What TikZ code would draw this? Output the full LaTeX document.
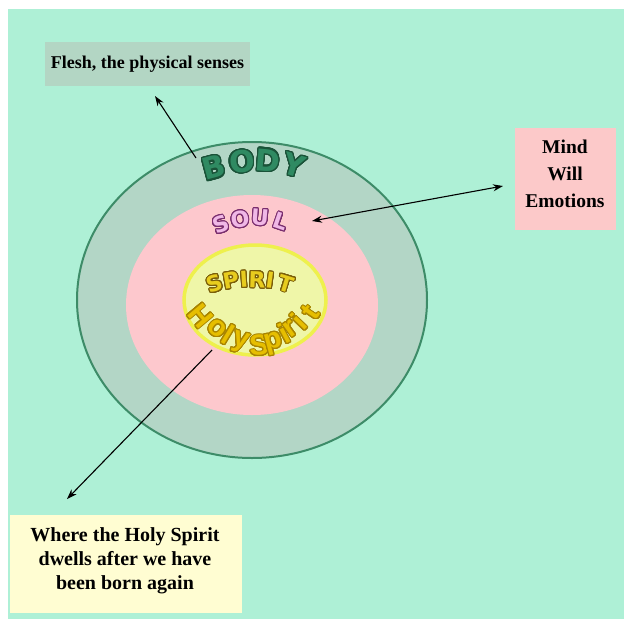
\documentclass[tikz,border=0pt]{standalone}
\usepackage{fontspec}
\setmainfont{Liberation Serif}
\newfontfamily\wafont{DejaVu Sans}
\newfontfamily\hsfont{Liberation Sans}
\usepackage[copies]{contour}
\contournumber{24}
\usetikzlibrary{arrows.meta,shapes.geometric}
\definecolor{bg}{HTML}{AEF0D6}
\definecolor{fleshc}{HTML}{B3D6C4}
\definecolor{bodyfill}{HTML}{B3D6C6}
\definecolor{bodyline}{HTML}{3D8C68}
\definecolor{soulfill}{HTML}{FDC8CD}
\definecolor{mindc}{HTML}{FCC9C9}
\definecolor{spfill}{HTML}{EFF6A8}
\definecolor{spline}{HTML}{EEF04C}
\definecolor{wherec}{HTML}{FFFDD2}
\definecolor{bodytxt}{HTML}{2F8A62}
\definecolor{bodyout}{HTML}{1A5238}
\definecolor{soultxt}{HTML}{F0B8E6}
\definecolor{soulout}{HTML}{7A2E6E}
\definecolor{spirtxt}{HTML}{E8CC1E}
\definecolor{spirout}{HTML}{7A5E0A}
\definecolor{hstxt}{HTML}{E6BE00}
\definecolor{hsout}{HTML}{A88400}
\tikzset{
  labelbox/.style={inner sep=0pt, align=center, text=black, font=\bfseries},
  ring/.style={ellipse, inner sep=0pt},
  arr/.style={line width=1.1pt, -{Stealth[length=10pt,width=7pt]}},
  arrboth/.style={line width=1.1pt, {Stealth[length=10pt,width=7pt]}-{Stealth[length=10pt,width=7pt]}},
  wa/.style={inner sep=0pt, anchor=center},
}
\newcommand\bodyletter[1]{\contourlength{1.3pt}\contour{bodyout}{#1}}
\newcommand\soulletter[1]{\contourlength{1pt}\contour{soulout}{#1}}
\newcommand\spirletter[1]{\contourlength{1pt}\contour{spirout}{#1}}
\newcommand\hsletter[1]{\contourlength{1pt}\contour{hsout}{#1}}
\begin{document}
\begin{tikzpicture}[x=1pt,y=-1pt]
\fill[white] (0,0) rectangle (624,619);
\useasboundingbox (0,0) rectangle (624,619);
\fill[bg] (8,9) rectangle (624,619);

% rings
\node[ring, draw=bodyline, line width=2pt, fill=bodyfill, minimum width=350pt, minimum height=316pt] (body) at (252,300) {};
\node[ring, fill=soulfill, minimum width=252pt, minimum height=220pt] (soul) at (252,305) {};
\node[ring, draw=spline, line width=3.5pt, fill=spfill, minimum width=142pt, minimum height=110pt] (spirit) at (255,300) {};

% BODY
\foreach \l/\x/\y/\r in {B/214/168/15, O/242/162/5, D/268/161/-5, Y/294/166/-17}
  \node[wa, rotate=\r, text=bodytxt, font=\wafont\bfseries\fontsize{30}{30}\selectfont] (body\l) at (\x,\y) {\bodyletter{\l}};
% SOUL
\foreach \l/\x/\y/\r/\n in {S/221/225/21/1, O/240/220/8/2, U/260/218/-5/3, L/281/222/-19/4}
  \node[wa, rotate=\r, text=soultxt, font=\wafont\bfseries\fontsize{22}{22}\selectfont] (soul\n) at (\x,\y) {\soulletter{\l}};
% SPIRIT
\foreach \l/\x/\y/\r/\n in {S/215/284/18/1, P/231/281/10/2, I/244/280/4/3, R/257/280/-2/4, I/270/281/-8/5, T/286/284/-17/6}
  \node[wa, rotate=\r, text=spirtxt, font=\wafont\bfseries\fontsize{22}{22}\selectfont] (spir\n) at (\x,\y) {\spirletter{\l}};
% Holy Spirit
\foreach \l/\x/\y/\r/\n in {H/200/316/-50/1, o/217/329/-40/2, l/228/335/-31/3, y/240/343/-17/4, S/259/346/3/5, p/274/344/15/6, i/284/334/28/7, r/291/329/36/8, i/299/322/46/9, t/311/313/56/10}
  \node[wa, rotate=\r, text=hstxt, font=\hsfont\bfseries\fontsize{29}{29}\selectfont] (hs\n) at (\x,\y) {\hsletter{\l}};

% boxes
\node[labelbox, fill=fleshc, minimum width=205pt, minimum height=44pt, font=\bfseries\fontsize{18}{20}\selectfont] (flesh) at (147.5,64) {Flesh, the physical senses};
\node[labelbox, fill=mindc, minimum width=101pt, minimum height=102pt] (mind) at (565.5,179) {};
\node[labelbox, font=\bfseries\fontsize{19.5}{27}\selectfont] (mindtxt) at (565,174) {Mind\\Will\\Emotions};
\node[labelbox, fill=wherec, minimum width=232pt, minimum height=98pt] (where) at (126,564) {};
\node[labelbox, font=\bfseries\fontsize{20}{24}\selectfont] (wheretxt) at (125,561) {Where the Holy Spirit\\dwells after we have\\been born again};

% connectors
\coordinate (a1s) at (196,158);
\coordinate (a1e) at (155,96);
\draw[arr] (a1s) -- (a1e);
\coordinate (a2s) at (312,221);
\coordinate (a2e) at (503,186);
\draw[arrboth] (a2s) -- (a2e);
\coordinate (a3s) at (212,350);
\coordinate (a3e) at (67,499);
\draw[arr] (a3s) -- (a3e);
\end{tikzpicture}
\end{document}
